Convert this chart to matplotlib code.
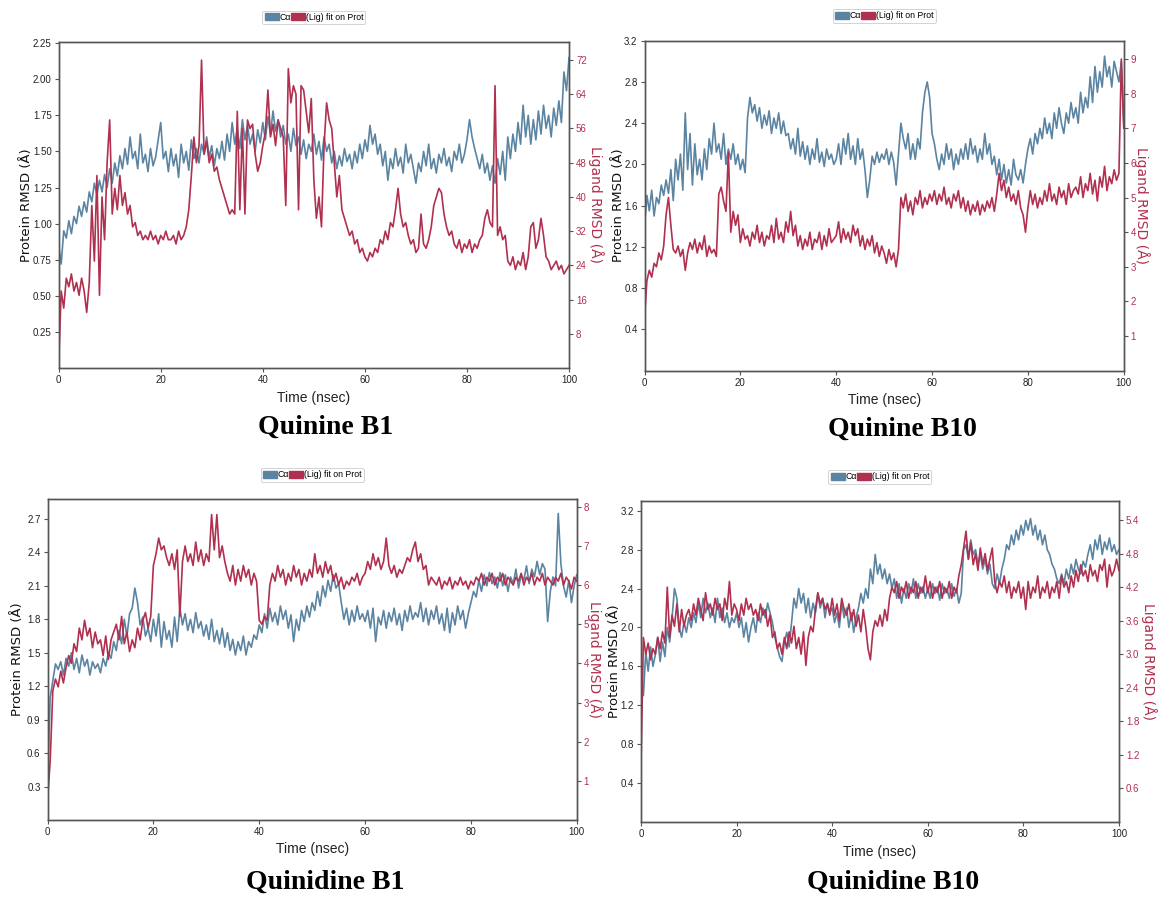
"""Protein / ligand RMSD panels for quinine and quinidine complexes (B1, B10)."""

import numpy as np
import matplotlib
matplotlib.use('Agg')
import matplotlib.pyplot as plt
from matplotlib.patches import Patch

# ---- data (RMSD every 0.5 ns, 0..100 ns) ----
q1_prot = [
    0.85, 0.72, 0.95, 0.90, 1.02, 0.93, 1.05, 1.00, 1.12, 1.05, 1.15, 1.08, 1.22, 1.15, 1.28, 1.20, 1.30, 1.22, 1.34, 1.25,
    1.38, 1.28, 1.42, 1.33, 1.47, 1.38, 1.52, 1.41, 1.60, 1.45, 1.50, 1.38, 1.62, 1.42, 1.48, 1.36, 1.52, 1.40, 1.46, 1.58,
    1.70, 1.45, 1.50, 1.36, 1.52, 1.40, 1.48, 1.32, 1.55, 1.42, 1.50, 1.37, 1.58, 1.45, 1.52, 1.42, 1.55, 1.48, 1.60, 1.46,
    1.54, 1.40, 1.52, 1.45, 1.57, 1.44, 1.62, 1.50, 1.70, 1.55, 1.66, 1.52, 1.72, 1.58, 1.68, 1.55, 1.62, 1.50, 1.65, 1.56,
    1.70, 1.58, 1.74, 1.62, 1.78, 1.64, 1.72, 1.60, 1.68, 1.55, 1.62, 1.50, 1.66, 1.54, 1.60, 1.48, 1.58, 1.45, 1.55, 1.50,
    1.62, 1.48, 1.57, 1.44, 1.60, 1.50, 1.55, 1.42, 1.50, 1.38, 1.47, 1.40, 1.52, 1.43, 1.48, 1.38, 1.50, 1.42, 1.55, 1.45,
    1.58, 1.50, 1.68, 1.55, 1.62, 1.48, 1.55, 1.40, 1.50, 1.30, 1.45, 1.38, 1.52, 1.40, 1.46, 1.35, 1.55, 1.42, 1.48, 1.38,
    1.28, 1.42, 1.36, 1.50, 1.40, 1.55, 1.38, 1.45, 1.35, 1.48, 1.42, 1.52, 1.40, 1.46, 1.36, 1.50, 1.44, 1.55, 1.42, 1.48,
    1.58, 1.72, 1.60, 1.52, 1.45, 1.38, 1.48, 1.35, 1.42, 1.30, 1.40, 1.28, 1.45, 1.34, 1.50, 1.30, 1.60, 1.45, 1.62, 1.50,
    1.70, 1.55, 1.82, 1.60, 1.75, 1.55, 1.72, 1.58, 1.78, 1.62, 1.82, 1.66, 1.75, 1.60, 1.80, 1.68, 1.85, 1.70, 2.05, 1.92,
    2.15,
]
q1_lig = [
    0.5, 18, 14, 21, 19, 22, 18, 20, 17, 21, 18, 13, 20, 38, 25, 45, 17, 40, 30, 48,
    58, 36, 42, 37, 45, 38, 41, 36, 38, 33, 34, 31, 32, 30, 31, 30, 32, 30, 31, 29,
    31, 30, 32, 30, 30, 31, 29, 32, 30, 31, 33, 37, 45, 54, 48, 52, 72, 50, 53, 48,
    50, 46, 47, 44, 42, 40, 38, 36, 37, 36, 60, 37, 56, 36, 58, 56, 57, 50, 46, 48,
    52, 55, 65, 54, 57, 52, 58, 56, 54, 38, 70, 62, 66, 64, 37, 66, 65, 60, 55, 63,
    44, 35, 40, 33, 52, 62, 58, 56, 48, 40, 45, 37, 35, 33, 31, 32, 29, 30, 27, 28,
    26, 25, 27, 26, 28, 27, 30, 29, 32, 30, 34, 33, 37, 42, 36, 33, 34, 31, 29, 30,
    27, 28, 36, 29, 28, 30, 33, 38, 40, 42, 41, 36, 33, 31, 32, 29, 28, 30, 27, 29,
    28, 30, 27, 29, 28, 30, 31, 35, 37, 34, 33, 66, 31, 33, 30, 31, 25, 24, 26, 23,
    25, 24, 27, 23, 26, 33, 34, 28, 30, 35, 31, 26, 25, 23, 24, 25, 23, 24, 22, 23,
    24,
]

q10_prot = [
    1.40, 1.70, 1.55, 1.75, 1.50, 1.68, 1.62, 1.80, 1.70, 1.85, 1.72, 1.95, 1.65, 2.05, 1.85, 2.10, 1.75, 2.50, 1.95, 2.30,
    1.80, 2.20, 1.90, 2.05, 1.85, 2.15, 1.95, 2.25, 2.10, 2.40, 2.12, 2.20, 2.05, 2.30, 2.00, 2.15, 2.05, 2.20, 2.00, 2.10,
    1.95, 2.05, 1.92, 2.45, 2.65, 2.50, 2.58, 2.42, 2.55, 2.35, 2.48, 2.38, 2.52, 2.30, 2.45, 2.35, 2.50, 2.30, 2.42, 2.28,
    2.30, 2.15, 2.25, 2.10, 2.35, 2.08, 2.22, 2.05, 2.18, 2.00, 2.15, 2.05, 2.25, 2.02, 2.12, 1.98, 2.15, 2.05, 2.10, 2.00,
    2.05, 2.20, 2.00, 2.25, 2.10, 2.30, 2.05, 2.18, 2.00, 2.25, 2.05, 2.15, 1.95, 1.68, 1.85, 2.08, 2.00, 2.12, 2.02, 2.10,
    2.05, 2.15, 2.00, 2.12, 2.02, 1.80, 2.10, 2.40, 2.25, 2.15, 2.30, 2.05, 2.20, 2.05, 2.25, 2.15, 2.50, 2.70, 2.80, 2.65,
    2.30, 2.20, 2.05, 1.95, 2.10, 2.00, 2.20, 2.05, 2.15, 1.95, 2.10, 2.00, 2.15, 2.05, 2.20, 2.05, 2.25, 2.10, 2.18, 2.02,
    2.15, 2.05, 2.30, 2.10, 2.20, 2.00, 2.08, 1.90, 2.05, 1.85, 2.00, 1.82, 1.95, 1.80, 2.05, 1.90, 1.85, 1.95, 1.82, 2.00,
    2.15, 2.25, 2.10, 2.30, 2.20, 2.35, 2.25, 2.45, 2.30, 2.40, 2.25, 2.50, 2.35, 2.55, 2.40, 2.30, 2.50, 2.40, 2.60, 2.45,
    2.55, 2.40, 2.70, 2.50, 2.65, 2.55, 2.85, 2.60, 2.95, 2.70, 2.90, 2.75, 3.05, 2.85, 2.95, 2.75, 3.00, 2.90, 2.80, 3.00,
    2.40,
]
q10_lig = [
    1.5, 2.6, 2.9, 2.7, 3.1, 3.0, 3.4, 3.2, 3.6, 4.5, 5.0, 4.2, 3.5, 3.4, 3.6, 3.3, 3.5, 2.9, 3.4, 3.7,
    3.5, 3.8, 3.4, 3.7, 3.5, 3.9, 3.3, 3.6, 3.4, 3.5, 3.3, 5.1, 5.3, 4.9, 4.6, 6.3, 4.0, 4.6, 4.2, 4.5,
    3.7, 4.1, 3.8, 3.9, 3.6, 4.0, 3.8, 4.2, 3.7, 4.0, 3.6, 3.9, 3.8, 4.2, 3.7, 4.4, 3.8, 4.0, 3.7, 4.3,
    4.0, 4.6, 3.9, 4.2, 3.6, 3.9, 3.5, 3.8, 3.6, 4.0, 3.5, 3.8, 3.7, 4.0, 3.5, 3.9, 3.6, 4.1, 3.7, 3.8,
    3.9, 4.3, 3.7, 4.1, 3.8, 4.0, 3.7, 4.2, 3.9, 4.1, 3.6, 3.9, 3.5, 3.8, 3.6, 3.9, 3.4, 3.7, 3.3, 3.6,
    3.4, 3.1, 3.5, 3.2, 3.4, 3.0, 3.5, 5.0, 4.7, 5.1, 4.6, 4.9, 4.5, 5.0, 4.8, 5.2, 4.7, 5.0, 4.8, 5.1,
    4.9, 5.2, 4.8, 5.1, 4.9, 5.3, 4.8, 5.0, 4.7, 5.1, 4.9, 5.2, 4.7, 5.0, 4.6, 4.9, 4.5, 4.8, 4.6, 4.9,
    4.5, 4.8, 4.6, 4.9, 4.7, 5.0, 4.6, 5.1, 5.7, 5.2, 5.5, 5.0, 5.3, 4.9, 5.1, 4.8, 5.2, 4.7, 4.5, 4.0,
    4.7, 5.2, 4.8, 5.1, 4.7, 5.0, 4.8, 5.2, 4.9, 5.4, 4.9, 5.1, 4.8, 5.3, 5.0, 5.2, 4.8, 5.4, 5.0, 5.2,
    5.3, 5.1, 5.6, 5.0, 5.4, 5.2, 5.7, 5.1, 5.5, 4.9, 5.6, 5.3, 5.9, 5.2, 5.6, 5.4, 5.8, 5.5, 5.7, 9.0,
    7.0,
]

qd1_prot = [
    0.30, 1.10, 1.25, 1.40, 1.35, 1.42, 1.30, 1.45, 1.38, 1.50, 1.35, 1.45, 1.32, 1.48, 1.38, 1.44, 1.30, 1.42, 1.36, 1.40,
    1.32, 1.45, 1.38, 1.50, 1.45, 1.60, 1.52, 1.70, 1.58, 1.80, 1.65, 1.85, 1.90, 2.08, 1.95, 1.75, 1.82, 1.65, 1.72, 1.60,
    1.80, 1.65, 1.85, 1.55, 1.78, 1.62, 1.70, 1.55, 1.82, 1.60, 1.90, 1.75, 1.85, 1.70, 1.80, 1.68, 1.86, 1.72, 1.78, 1.65,
    1.75, 1.62, 1.80, 1.60, 1.70, 1.58, 1.72, 1.55, 1.68, 1.52, 1.62, 1.48, 1.60, 1.52, 1.65, 1.48, 1.60, 1.55, 1.66, 1.62,
    1.75, 1.68, 1.85, 1.72, 1.90, 1.78, 1.86, 1.75, 1.92, 1.80, 1.88, 1.72, 1.84, 1.60, 1.80, 1.70, 1.88, 1.78, 1.92, 1.82,
    1.95, 1.88, 2.05, 1.92, 2.10, 2.00, 2.15, 2.05, 2.20, 2.08, 2.12, 1.95, 1.80, 1.90, 1.75, 1.88, 1.78, 1.92, 1.80, 1.85,
    1.78, 1.88, 1.72, 1.90, 1.60, 1.82, 1.75, 1.88, 1.72, 1.86, 1.78, 1.90, 1.75, 1.85, 1.70, 1.88, 1.78, 1.92, 1.80, 1.86,
    1.82, 1.95, 1.78, 1.90, 1.75, 1.88, 1.80, 1.92, 1.76, 1.85, 1.70, 1.90, 1.68, 1.86, 1.75, 1.92, 1.80, 1.88, 1.72, 1.85,
    1.95, 2.05, 2.00, 2.15, 2.05, 2.20, 2.10, 2.22, 2.12, 2.18, 2.08, 2.22, 2.10, 2.20, 2.05, 2.18, 2.12, 2.25, 2.08, 2.20,
    2.15, 2.28, 2.12, 2.25, 2.18, 2.32, 2.20, 2.30, 2.25, 1.78, 2.05, 2.18, 2.10, 2.75, 2.30, 2.10, 2.00, 2.15, 1.95, 2.10,
    2.20,
]
qd1_lig = [
    0.5, 1.5, 3.3, 3.6, 3.4, 3.8, 3.5, 3.9, 4.2, 4.0, 4.5, 4.3, 4.9, 4.6, 5.1, 4.7, 4.9, 4.4, 4.8, 4.5,
    4.6, 4.2, 4.7, 4.1, 4.6, 4.8, 5.0, 4.6, 5.2, 4.5, 4.8, 4.3, 4.6, 4.4, 4.9, 4.6, 5.1, 5.3, 4.9, 5.2,
    6.5, 6.8, 7.2, 6.9, 7.0, 6.7, 6.5, 6.8, 6.4, 6.9, 5.2, 6.6, 7.0, 6.6, 6.8, 6.5, 7.1, 6.6, 6.9, 6.5,
    6.8, 6.6, 7.8, 6.9, 7.8, 6.7, 7.0, 6.6, 6.3, 6.1, 6.5, 6.0, 6.4, 6.1, 6.5, 6.2, 6.4, 6.0, 6.3, 6.1,
    5.1, 5.0, 5.2, 5.1, 6.0, 6.3, 6.1, 6.5, 6.2, 6.4, 6.0, 6.3, 6.1, 6.5, 6.2, 6.4, 6.0, 6.3, 6.1, 6.4,
    6.2, 6.8, 6.3, 6.5, 6.2, 6.6, 6.3, 6.5, 6.1, 6.3, 6.0, 6.2, 5.9, 6.1, 6.0, 6.2, 6.1, 6.3, 6.0, 6.2,
    6.3, 6.6, 6.4, 6.8, 6.5, 6.7, 6.4, 6.6, 7.2, 6.5, 6.3, 6.5, 6.2, 6.4, 6.3, 6.5, 6.7, 6.6, 6.9, 7.1,
    6.6, 6.8, 6.4, 6.5, 6.0, 6.2, 6.1, 6.0, 6.2, 5.9, 6.1, 6.0, 6.2, 5.9, 6.1, 6.0, 6.2, 6.0, 6.1, 5.9,
    6.1, 6.0, 6.2, 6.1, 6.3, 6.0, 6.2, 6.1, 6.3, 6.0, 6.2, 6.1, 6.3, 6.0, 6.2, 6.1, 6.0, 6.2, 6.1, 6.3,
    6.0, 6.2, 6.1, 6.3, 6.0, 6.2, 6.1, 6.3, 6.0, 6.2, 6.1, 6.0, 6.2, 6.1, 6.3, 6.0, 6.2, 6.1, 5.9, 6.2,
    6.1,
]

qd10_prot = [
    1.40, 1.30, 1.75, 1.55, 1.80, 1.60, 1.72, 1.90, 1.65, 1.85, 1.70, 2.00, 1.85, 2.10, 2.40, 2.30, 2.00, 1.90, 2.05, 1.95,
    2.10, 2.00, 2.15, 2.05, 2.25, 2.10, 2.30, 2.15, 2.25, 2.10, 2.20, 2.05, 2.30, 2.10, 2.20, 2.05, 2.15, 2.00, 2.10, 2.05,
    2.15, 2.00, 2.10, 1.90, 2.05, 1.85, 2.00, 2.10, 1.95, 2.15, 2.05, 2.20, 2.10, 2.25, 2.15, 2.05, 1.90, 1.80, 1.70, 1.65,
    1.85, 1.95, 1.80, 2.05, 2.30, 2.20, 2.40, 2.25, 2.35, 2.15, 2.30, 2.10, 2.25, 2.15, 2.35, 2.20, 2.30, 2.10, 2.25, 2.15,
    2.20, 2.05, 2.15, 2.00, 2.25, 2.10, 2.20, 2.00, 2.15, 1.95, 2.10, 2.20, 2.35, 2.25, 2.40, 2.30, 2.60, 2.45, 2.75, 2.55,
    2.65, 2.50, 2.60, 2.45, 2.55, 2.40, 2.50, 2.30, 2.45, 2.25, 2.40, 2.30, 2.45, 2.35, 2.50, 2.30, 2.45, 2.35, 2.42, 2.30,
    2.40, 2.30, 2.45, 2.35, 2.42, 2.28, 2.45, 2.35, 2.40, 2.30, 2.45, 2.32, 2.40, 2.25, 2.35, 2.80, 2.85, 2.70, 2.90, 2.75,
    2.80, 2.65, 2.75, 2.60, 2.70, 2.55, 2.65, 2.45, 2.40, 2.55, 2.45, 2.60, 2.70, 2.85, 2.80, 2.95, 2.85, 3.00, 2.90, 3.05,
    2.95, 3.10, 3.00, 3.12, 2.95, 3.05, 2.90, 3.00, 2.85, 2.95, 2.80, 2.75, 2.65, 2.60, 2.50, 2.45, 2.55, 2.45, 2.60, 2.50,
    2.65, 2.55, 2.70, 2.60, 2.55, 2.68, 2.62, 2.75, 2.85, 2.70, 2.90, 2.80, 2.95, 2.75, 2.88, 2.80, 2.92, 2.78, 2.85, 2.75,
    2.80,
]
qd10_lig = [
    1.0, 3.3, 3.0, 3.2, 2.9, 3.1, 3.0, 3.3, 3.1, 3.4, 3.2, 4.2, 3.3, 3.7, 3.5, 3.9, 3.4, 3.8, 3.5, 3.7,
    3.8, 3.6, 3.9, 3.7, 4.0, 3.8, 3.6, 4.1, 3.8, 3.9, 3.7, 4.0, 3.8, 3.9, 3.6, 4.0, 3.8, 4.3, 3.7, 3.9,
    3.8, 3.6, 3.9, 3.7, 4.0, 3.8, 3.9, 3.7, 3.8, 3.6, 3.9, 3.7, 3.8, 3.5, 3.7, 3.3, 3.4, 3.1, 3.2, 3.0,
    3.3, 3.1, 3.4, 3.2, 3.5, 3.1, 3.3, 3.0, 3.4, 2.8, 3.3, 3.5, 3.4, 3.8, 4.1, 3.9, 4.0, 3.8, 3.9, 3.7,
    4.0, 3.7, 3.9, 3.6, 4.0, 3.8, 3.7, 3.9, 3.6, 3.8, 3.5, 3.7, 3.4, 3.8, 3.5, 3.1, 2.9, 3.4, 3.6, 3.5,
    3.7, 3.5, 3.8, 3.6, 4.0, 4.2, 4.1, 4.3, 4.0, 4.2, 4.1, 4.3, 4.0, 4.2, 4.1, 4.3, 4.0, 4.2, 4.1, 4.4,
    4.1, 4.3, 4.0, 4.2, 4.1, 4.3, 4.0, 4.2, 4.1, 4.3, 4.0, 4.2, 4.1, 4.4, 4.6, 4.9, 5.2, 4.7, 5.0, 4.6,
    4.8, 4.5, 4.9, 4.6, 4.8, 4.5, 4.7, 4.9, 4.3, 4.1, 4.3, 4.2, 4.4, 4.1, 4.3, 4.0, 4.2, 4.1, 4.3, 4.0,
    4.2, 3.8, 4.3, 4.0, 4.2, 4.1, 4.4, 4.0, 4.2, 4.1, 4.3, 4.0, 4.2, 4.1, 4.3, 4.0, 4.4, 4.2, 4.3, 4.1,
    4.4, 4.2, 4.5, 4.3, 4.6, 4.4, 4.5, 4.3, 4.6, 4.4, 4.5, 4.3, 4.6, 4.5, 4.7, 4.2, 4.6, 4.4, 4.5, 4.7,
    4.5,
]

titles = ['Quinine B1', 'Quinine B10', 'Quinidine B1', 'Quinidine B10']
prot_series = [q1_prot, q10_prot, qd1_prot, qd10_prot]
lig_series = [q1_lig, q10_lig, qd1_lig, qd10_lig]

# axis ranges / ticks per panel
prot_ylim = [(0.0, 2.26), (0.0, 3.2), (0.0, 2.88), (0.0, 3.3)]
lig_ylim = [(0.0, 76.3), (0.0, 9.53), (0.0, 8.2), (0.0, 5.74)]
prot_ticks = [
    [0.25, 0.5, 0.75, 1.0, 1.25, 1.5, 1.75, 2.0, 2.25],
    [0.4, 0.8, 1.2, 1.6, 2.0, 2.4, 2.8, 3.2],
    [0.3, 0.6, 0.9, 1.2, 1.5, 1.8, 2.1, 2.4, 2.7],
    [0.4, 0.8, 1.2, 1.6, 2.0, 2.4, 2.8, 3.2],
]
lig_ticks = [
    [8, 16, 24, 32, 40, 48, 56, 64, 72],
    [1, 2, 3, 4, 5, 6, 7, 8, 9],
    [1, 2, 3, 4, 5, 6, 7, 8],
    [0.6, 1.2, 1.8, 2.4, 3.0, 3.6, 4.2, 4.8, 5.4],
]
prot_fmt = ['{:.2f}', '{:.1f}', '{:.1f}', '{:.1f}']
lig_fmt = ['{:d}', '{:d}', '{:d}', '{:.1f}']

BLUE = '#5b84a2'
RED = '#b0304f'
GREY = '#555555'

# axes rectangles in figure fraction (left, bottom, width, height)
rects = [
    [0.0502, 0.5902, 0.4370, 0.3634],
    [0.5518, 0.5872, 0.4103, 0.3675],
    [0.0407, 0.0869, 0.4531, 0.3575],
    [0.5488, 0.0846, 0.4092, 0.3575],
]
# y-label centres in axes fraction (left label x, right label x)
left_lab_x = [-0.062, -0.054, -0.056, -0.056]
right_lab_x = [1.053, 1.038, 1.035, 1.063]
title_xy = [(0.279, 0.524), (0.773, 0.522), (0.278, 0.018), (0.765, 0.018)]

fig = plt.figure(figsize=(11.68, 8.98), dpi=100)
fig.patch.set_facecolor('white')

for i in range(4):
    ax = fig.add_axes(rects[i])
    ax2 = ax.twinx()
    prot = prot_series[i]
    lig = lig_series[i]
    t_prot = np.linspace(0, 100, len(prot))
    t_lig = np.linspace(0, 100, len(lig))

    ax.plot(t_prot, prot, color=BLUE, lw=1.2)
    ax2.plot(t_lig, lig, color=RED, lw=1.2)

    ax.set_xlim(0, 100)
    ax.set_ylim(*prot_ylim[i])
    ax2.set_ylim(*lig_ylim[i])
    ax.set_xticks([0, 20, 40, 60, 80, 100])
    ax.set_xticklabels(['0', '20', '40', '60', '80', '100'], family='Liberation Sans', fontsize=7, color='#222222')
    ax.set_yticks(prot_ticks[i])
    ax.set_yticklabels([prot_fmt[i].format(v) for v in prot_ticks[i]],
                       family='Liberation Sans', fontsize=7, color='#222222')
    ax2.set_yticks(lig_ticks[i])
    ax2.set_yticklabels([lig_fmt[i].format(v) for v in lig_ticks[i]],
                        family='Liberation Sans', fontsize=7, color=RED)

    ax.tick_params(length=3, width=0.8, color=GREY, pad=2)
    ax2.tick_params(length=3, width=0.8, color=GREY, pad=2)
    for a in (ax, ax2):
        for sp in a.spines.values():
            sp.set_color(GREY)
            sp.set_linewidth(1.0)

    ax.set_xlabel('Time (nsec)', family='Liberation Sans', fontsize=10, color='#222222', labelpad=4)
    ax.set_ylabel('Protein RMSD (Å)', family='DejaVu Sans', fontsize=9.5, color='#111111', va='center')
    ax.yaxis.set_label_coords(left_lab_x[i], 0.5)
    ax2.set_ylabel('Ligand RMSD (Å)', family='DejaVu Sans', fontsize=10, color=RED,
                   rotation=270, va='center')
    ax2.yaxis.set_label_coords(right_lab_x[i], 0.5)

    handles = [Patch(facecolor=BLUE, edgecolor=BLUE), Patch(facecolor=RED, edgecolor=RED)]
    leg = ax2.legend(handles, ['Cα', '(Lig) fit on Prot'], loc='center', bbox_to_anchor=(0.5, 1.075),
                     ncol=2, prop={'family': 'Liberation Sans', 'size': 6.3},
                     handlelength=1.6, handleheight=0.9, handletextpad=0.1, columnspacing=0.0,
                     borderpad=0.25, frameon=True, fancybox=True, framealpha=1.0, edgecolor='#cccccc')
    leg.get_frame().set_linewidth(0.6)

    fig.text(title_xy[i][0], title_xy[i][1], titles[i], ha='center', va='center',
             family='Liberation Serif', fontweight='bold', fontsize=20)

fig.savefig('out.png', dpi=100, facecolor='white')
